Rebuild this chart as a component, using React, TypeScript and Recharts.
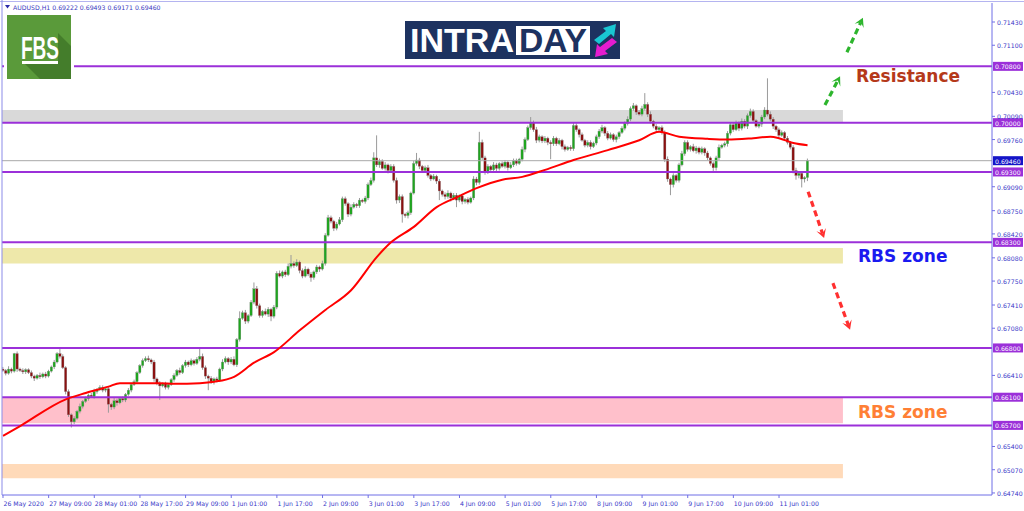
import React from 'react';
import { ComposedChart, Bar, Line, XAxis, YAxis, ReferenceLine, ReferenceArea } from 'recharts';

// ---- data (AUDUSD H1, bar 0 = 26 May 2020 17:00) ----
const firstOpen = 0.6650;
const closes = [
  .6648,.6644,.6650,.6647,.6672,.6650,.6648,.6646,.6649,.6645,
  .6640,.6637,.6641,.6639,.6643,.6640,.6647,.6653,.6660,.6672,
  .6668,.6652,.6618,.6585,.6575,.6580,.6590,.6597,.6604,.6608,
  .6613,.6611,.6618,.6621,.6624,.6620,.6622,.6600,.6596,.6605,
  .6602,.6608,.6606,.6614,.6620,.6628,.6632,.6645,.6655,.6662,
  .6665,.6663,.6660,.6636,.6630,.6626,.6629,.6624,.6628,.6635,
  .6641,.6648,.6645,.6655,.6660,.6656,.6662,.6658,.6664,.6668,
  .6652,.6640,.6637,.6632,.6636,.6634,.6650,.6660,.6665,.6660,
  .6664,.6656,.6692,.6722,.6730,.6718,.6726,.6745,.6764,.6740,
  .6726,.6732,.6728,.6735,.6725,.6738,.6786,.6782,.6788,.6784,
  .6796,.6800,.6797,.6802,.6790,.6782,.6792,.6785,.6780,.6788,
  .6795,.6792,.6800,.6840,.6865,.6860,.6850,.6856,.6862,.6892,
  .6885,.6870,.6880,.6884,.6882,.6890,.6888,.6893,.6912,.6918,
  .6950,.6940,.6945,.6935,.6940,.6932,.6938,.6918,.6890,.6895,
  .6870,.6868,.6872,.6900,.6942,.6947,.6938,.6932,.6936,.6925,
  .6920,.6924,.6917,.6903,.6898,.6895,.6900,.6893,.6897,.6890,
  .6896,.6888,.6891,.6887,.6893,.6920,.6915,.6972,.6950,.6930,
  .6938,.6933,.6940,.6935,.6942,.6938,.6944,.6936,.6940,.6946,
  .6942,.6948,.6962,.6976,.6993,.7000,.6990,.6975,.6980,.6974,
  .6978,.6972,.6970,.6978,.6970,.6975,.6966,.6962,.6965,.6963,
  .6996,.6990,.6983,.6975,.6968,.6972,.6966,.6971,.6980,.6988,
  .6993,.6985,.6978,.6983,.6976,.6980,.6986,.6992,.6999,.7005,
  .7020,.7024,.7015,.7012,.7020,.7026,.7012,.7002,.6995,.6990,
  .6993,.6986,.6948,.6920,.6912,.6925,.6918,.6940,.6956,.6972,
  .6962,.6966,.6960,.6964,.6958,.6963,.6957,.6950,.6942,.6936,
  .6950,.6965,.6968,.6970,.6985,.6997,.6990,.7000,.6992,.7002,
  .6995,.7010,.7016,.7003,.6995,.6998,.7008,.7018,.7012,.7005,
  .6995,.6990,.6982,.6986,.6978,.6972,.6965,.6932,.6925,.6928,
  .6920,.6922,.6946,
];
// upper / lower wick length of each candle, in pips
const wickUp = [
  3,2,4,2,1,3,2,3,2,2, 3,2,2,4,2,3,2,2,3,2, 8,3,2,3,2,3,2,4,2,3,
  2,3,4,2,3,3,2,3,2,4, 3,2,3,2,3,2,3,2,2,3, 3,4,2,3,2,3,2,3,2,2,
  3,2,4,2,3,2,3,2,3,13, 4,3,2,3,2,3,2,4,3,2, 3,4,2,10,3,4,2,3,9,4,
  3,2,4,3,2,3,3,4,2,3, 4,12,3,4,2,3,4,2,3,2, 3,2,4,3,4,3,2,3,4,3,
  3,2,4,3,2,3,2,3,3,4, 8,32,4,3,4,2,3,3,4,3, 3,2,3,2,4,10,3,2,3,4,
  2,3,2,3,2,3,4,2,3,3, 2,3,2,3,2,4,3,15,4,3, 3,2,4,3,2,3,3,2,4,3,
  3,2,4,3,3,8,3,4,3,2, 3,2,3,3,2,3,2,3,2,3, 4,3,2,3,2,3,3,2,3,3,
  4,2,3,3,2,3,2,3,3,4, 3,4,2,3,4,16,3,4,2,3, 2,3,3,4,2,3,2,3,4,3,
  3,2,4,3,2,3,2,3,2,3, 3,4,2,3,3,4,3,3,2,4, 3,3,4,3,2,3,3,4,45,4,
  3,2,3,3,2,3,2,3,4,2, 3,2,3,
];
const wickDn = [
  2,3,2,3,2,4,2,3,3,2, 3,4,2,3,2,3,2,2,3,2, 3,2,4,3,8,3,2,3,3,2,
  3,2,3,3,2,3,3,12,4,3, 4,2,3,3,2,3,2,3,2,3, 2,3,3,4,3,20,2,3,3,2,
  3,2,3,2,3,3,2,3,2,3, 3,4,17,3,4,3,2,3,2,4, 3,2,3,3,2,4,3,2,3,4,
  3,3,2,4,7,3,3,2,3,3, 2,3,3,2,4,3,2,3,6,3, 3,4,2,3,2,3,4,3,2,3,
  3,4,3,2,3,3,2,3,3,2, 3,3,4,2,3,4,2,3,5,4, 12,3,4,3,2,3,4,3,2,3,
  3,2,4,13,3,4,3,5,3,10, 3,4,3,3,2,3,4,3,3,4, 3,3,2,4,3,2,3,4,2,3,
  3,2,3,4,2,3,3,4,3,3, 3,4,22,3,3,2,4,3,2,3, 3,3,4,2,3,3,4,2,3,3,
  3,4,3,2,3,4,3,2,3,3, 3,3,4,2,3,3,4,3,3,4, 3,3,4,4,15,4,3,3,2,3,
  3,3,2,4,3,3,4,3,3,6, 4,3,2,3,4,3,3,2,4,3, 3,4,3,3,2,3,4,3,3,3,
  4,3,3,2,4,3,3,4,6,4, 12,5,5,
];
// moving average read at sample bars
const maIndex = [0,6,22,29,37,41,55,60,69,74,81,88,95,104,113,122,131,136,144,152,159,166,175,182,190,200,212,223,230,237,247,254,263,269,272,277,282];
const maValue = [0.6555,0.6569,0.6607,0.6616,0.6625,0.6630,0.6630,0.6629,0.6630,0.6632,0.6639,0.6659,0.6674,0.6705,0.6734,0.6762,0.6809,0.6830,0.6852,0.6880,0.6894,0.6907,0.6919,0.6923,0.6933,0.6947,0.6961,0.6975,0.6987,0.6980,0.6977,0.6976,0.6978,0.6980,0.6978,0.6971,0.6968];

const xTickIndex = [0,16,32,48,64,80,96,112,128,144,160,176,192,208,224,240,256,272];
const xTickLabels = ['26 May 2020','27 May 09:00','28 May 01:00','28 May 17:00','29 May 09:00','1 Jun 01:00','1 Jun 17:00','2 Jun 09:00','3 Jun 01:00','3 Jun 17:00','4 Jun 09:00','5 Jun 01:00','5 Jun 17:00','8 Jun 09:00','9 Jun 01:00','9 Jun 17:00','10 Jun 09:00','11 Jun 01:00'];
// price scale labels (those hidden behind the level tags are left out)
const yTicks = [0.7143,0.711,0.7043,0.7009,0.6976,0.6909,0.6875,0.6842,0.6808,0.6775,0.6741,0.6708,0.6641,0.654,0.6507,0.6474];

const levels = [0.708, 0.700, 0.693, 0.683, 0.668, 0.661, 0.657];
const lastPrice = 0.6946;
const zoneEnd = 294.4;
const zones = [
  { y1: 0.7000, y2: 0.7018, fill: '#d9d9d9' },
  { y1: 0.6800, y2: 0.6822, fill: '#eee8aa' },
  { y1: 0.6573, y2: 0.6610, fill: '#ffc0cb' },
  { y1: 0.6495, y2: 0.6515, fill: '#ffdab9' },
];
const greenArrows = [
  [{ x: 288.1, y: 0.7025 }, { x: 293.4, y: 0.7066 }],
  [{ x: 295.8, y: 0.7100 }, { x: 301.4, y: 0.7149 }],
];
const redArrows = [
  [{ x: 282.2, y: 0.6902 }, { x: 287.8, y: 0.6836 }],
  [{ x: 290.9, y: 0.6772 }, { x: 296.9, y: 0.6706 }],
];

const PIP = 0.0001;
const maMap: Record<number, number> = {};
maIndex.forEach((k, j) => { maMap[k] = maValue[j]; });
const rows = closes.map((c, i) => {
  const o = i === 0 ? firstOpen : closes[i - 1];
  const h = Math.max(o, c) + wickUp[i] * PIP;
  const l = Math.min(o, c) - wickDn[i] * PIP;
  return { i, o, c, h, l, range: [l, h], ma: maMap[i] !== undefined ? maMap[i] : null };
});

const AXIS = '#6f6fe6';
const AXTXT = '#3737c8';
const PURPLE = '#9b30d9';
const FONT = 'DejaVu Sans, sans-serif';

const Candle = (props: any) => {
  const { x, y, width, height, payload } = props;
  if (x == null || !payload) return null;
  const top = Math.min(y, y + height);
  const bot = Math.max(y, y + height);
  const { o, c, h, l } = payload;
  const pix = (v: number) => top + ((h - v) / (h - l)) * (bot - top);
  const cx = x + width / 2;
  const up = c >= o;
  const yo = pix(o), yc = pix(c);
  const bt = Math.min(yo, yc);
  const bh = Math.max(Math.abs(yo - yc), 1);
  return (
    <g>
      <line x1={cx} x2={cx} y1={top} y2={bot} stroke="#9a9a9a" strokeWidth={1} />
      <rect x={cx - 1.2} y={bt} width={2.4} height={bh} fill={up ? '#1fa51f' : '#8b1010'} stroke="#8a8a8a" strokeWidth={0.3} />
    </g>
  );
};

const priceTag = (bg: string, text: string) => (props: any) => {
  const vb = props.viewBox || {};
  const xx = (vb.x || 0) + (vb.width || 0);
  const yy = vb.y || 0;
  return (
    <g>
      <rect x={xx + 1} y={yy - 4.5} width={30} height={9} fill={bg} />
      <text x={xx + 3} y={yy + 0.5} dominantBaseline="central" fill="#ffffff" fontSize={6.2} fontFamily={FONT}>{text}</text>
    </g>
  );
};

const arrowShape = (color: string) => (p: any) => {
  const { x1, y1, x2, y2 } = p;
  if (x1 == null) return null;
  const ang = Math.atan2(y2 - y1, x2 - x1);
  const L = 9, W = 5;
  const ca = Math.cos(ang), sa = Math.sin(ang);
  const bx = x2 - L * ca, by = y2 - L * sa;
  const nx = -sa, ny = ca;
  const mx = x2 - 0.55 * L * ca, my = y2 - 0.55 * L * sa;
  const pts = `${x2},${y2} ${bx + nx * W},${by + ny * W} ${mx},${my} ${bx - nx * W},${by - ny * W}`;
  return (
    <g>
      <line x1={x1} y1={y1} x2={mx} y2={my} stroke={color} strokeWidth={3.2} strokeDasharray="6 4" />
      <polygon points={pts} fill={color} />
    </g>
  );
};

const XTick = (props: any) => {
  const { x, y, payload } = props;
  const k = xTickIndex.indexOf(payload.value);
  return (
    <text x={x + 0.5} y={y + 3} dominantBaseline="central" textAnchor="start" fill={AXTXT} fontSize={6.2} fontFamily={FONT}>
      {k >= 0 ? xTickLabels[k] : ''}
    </text>
  );
};

const YTick = (props: any) => {
  const { x, y, payload } = props;
  return (
    <text x={x} y={y + 0.5} dominantBaseline="central" textAnchor="start" fill={AXTXT} fontSize={6.2} fontFamily={FONT}>
      {Number(payload.value).toFixed(5)}
    </text>
  );
};

export default function App() {
  return (
    <div style={{ position: 'absolute', left: 0, top: 0, width: 1024, height: 511, background: '#ffffff', overflow: 'hidden' }}>
      <ComposedChart width={1024} height={511} data={rows} margin={{ top: 3, right: 0, bottom: 0, left: 2 }}>
        <XAxis dataKey="i" type="number" domain={[-0.35, 346.65]} allowDataOverflow ticks={xTickIndex}
          height={16} tickSize={3} tickMargin={2} stroke={AXIS} tick={<XTick />} interval={0} />
        <YAxis type="number" orientation="right" domain={[0.64711, 0.717]} allowDataOverflow ticks={yTicks}
          width={32} tickSize={3} tickMargin={2} stroke={AXIS} tick={<YTick />} interval={0} />
        {zones.map((z, k) => (
          <ReferenceArea key={'z' + k} x2={zoneEnd} y1={z.y1} y2={z.y2} fill={z.fill} fillOpacity={1} stroke="none" ifOverflow="extendDomain" />
        ))}
        <ReferenceLine y={lastPrice} stroke="#a8a8a8" strokeWidth={1} label={priceTag('#1414c8', lastPrice.toFixed(5))} />
        {levels.map((v) => (
          <ReferenceLine key={'l' + v} y={v} stroke={PURPLE} strokeWidth={2} label={priceTag(PURPLE, v.toFixed(5))} />
        ))}
        <Bar dataKey="range" shape={<Candle />} isAnimationActive={false} />
        <Line dataKey="ma" type="monotone" stroke="#ff0000" strokeWidth={2} dot={false} connectNulls isAnimationActive={false} />
        {greenArrows.map((s, k) => (
          <ReferenceLine key={'g' + k} segment={s} shape={arrowShape('#2db52d')} />
        ))}
        {redArrows.map((s, k) => (
          <ReferenceLine key={'r' + k} segment={s} shape={arrowShape('#ff3030')} />
        ))}
      </ComposedChart>
      <svg width={1024} height={511} style={{ position: 'absolute', left: 0, top: 0, pointerEvents: 'none' }}>
        <line x1={0} y1={1.5} x2={1024} y2={1.5} stroke="#b4b4f0" strokeWidth={1} />
        <line x1={2} y1={0} x2={2} y2={495} stroke="#8b8be8" strokeWidth={1} />
        <polygon points="5,5 10,5 7.5,8.5" fill="#2a2aa8" />
        <text x={13} y={7} dominantBaseline="central" fill="#3a3ac0" fontSize={6.2} fontFamily={FONT}>AUDUSD,H1  0.69222 0.69493 0.69171 0.69460</text>
        {/* FBS logo */}
        <rect x={4} y={12} width={70} height={70} fill="#ffffff" />
        <rect x={7} y={15} width={64} height={64} fill="#5a9a3a" />
        <polygon points="58,33 71,46 71,79 40,79 22,61 58,61" fill="#447d2b" />
        <text x={21} y={59} fill="#ffffff" fontSize={31} fontWeight="bold" fontFamily="Liberation Sans, Arial, sans-serif" textLength={38} lengthAdjust="spacingAndGlyphs">FBS</text>
        <rect x={22} y={61} width={36} height={3} fill="#ffffff" />
        {/* INTRADAY logo */}
        <rect x={405} y={21} width={215} height={38} fill="#1d3260" />
        <text x={410} y={52} fill="#ffffff" fontSize={33} fontWeight="bold" fontFamily="Liberation Sans, Arial, sans-serif" textLength={104} lengthAdjust="spacingAndGlyphs">INTRA</text>
        <rect x={516} y={26} width={74} height={29} fill="#ffffff" />
        <text x={519} y={52} fill="#1d3260" fontSize={33} fontWeight="bold" fontFamily="Liberation Sans, Arial, sans-serif" textLength={68} lengthAdjust="spacingAndGlyphs">DAY</text>
        <polygon points="594,40 606,31 603,28 616,24 614,37 611,34 599,44" fill="#19c6d2" />
        <polygon points="617,42 605,51 608,54 595,57 597,44 600,47 612,38" fill="#e51ccf" />
        {/* annotations */}
        <text x={856} y={82} fill="#b5391a" fontSize={17} fontWeight="bold" fontFamily="DejaVu Sans, sans-serif">Resistance</text>
        <text x={858} y={262} fill="#1a1af0" fontSize={17} fontWeight="bold" fontFamily="DejaVu Sans, sans-serif">RBS zone</text>
        <text x={858} y={418} fill="#ff7f35" fontSize={17} fontWeight="bold" fontFamily="DejaVu Sans, sans-serif">RBS zone</text>
      </svg>
    </div>
  );
}
